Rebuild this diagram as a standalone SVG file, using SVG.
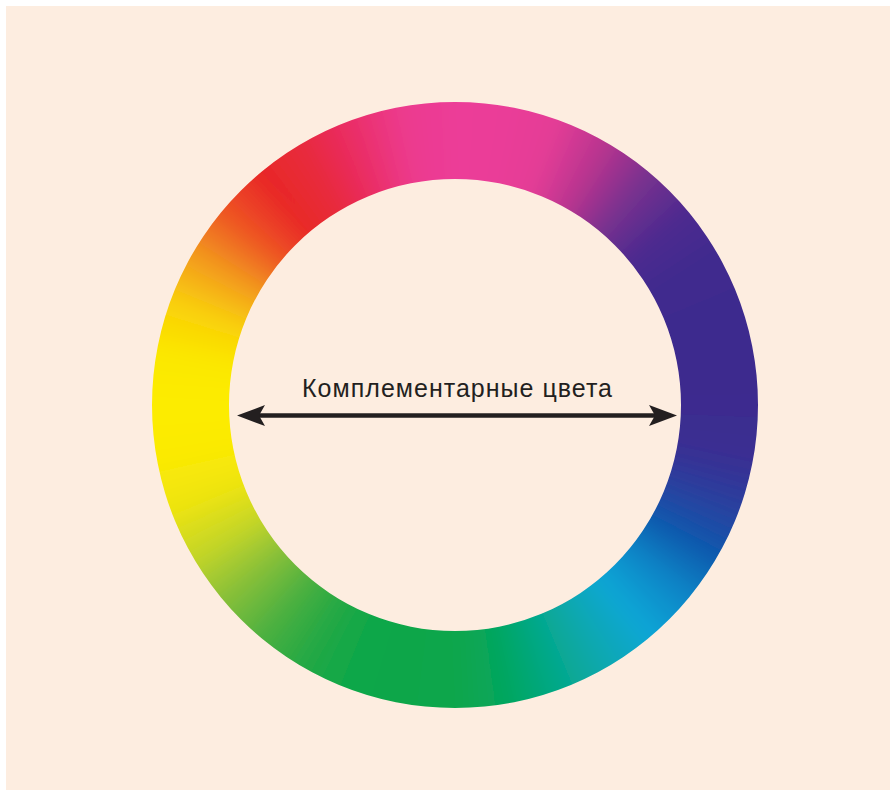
<svg xmlns="http://www.w3.org/2000/svg" width="890" height="790" viewBox="0 0 890 790">
<defs>
<style>
.s{fill:none;stroke-width:190;stroke-dasharray:5.5 354.5}
.lbl{font-family:"Liberation Sans",Arial,sans-serif;font-size:25px;fill:#231f20}
.arr{stroke:#231f20;stroke-width:4.6;fill:none}
</style>
<filter id="soft" filterUnits="userSpaceOnUse" x="0" y="0" width="890" height="790">
<feGaussianBlur stdDeviation="11"/>
</filter>
<clipPath id="ring">
<path clip-rule="evenodd" d="M152,405 a303,303 0 1,0 606,0 a303,303 0 1,0 -606,0 Z M229,405 a226,226 0 1,0 452,0 a226,226 0 1,0 -452,0 Z"/>
</clipPath>
<marker id="head" markerUnits="userSpaceOnUse" markerWidth="30" markerHeight="22" refX="21" refY="10.5" orient="auto-start-reverse" viewBox="0 0 30 22">
<path d="M28,10.5 L0,0 L6,10.5 L0,21 Z" fill="#231f20"/>
</marker>
</defs>
<rect x="0" y="0" width="890" height="790" fill="#ffffff"/>
<rect x="6" y="6" width="884" height="784" fill="#fdede0"/>
<g id="color-wheel" clip-path="url(#ring)">
<g filter="url(#soft)">
<g transform="translate(455 405)">
<circle class="s" r="264.5" pathLength="360" stroke="#3d2c8f" stroke-dashoffset="2.7"/>
<circle class="s" r="264.5" pathLength="360" stroke="#3b2d90" stroke-dashoffset="-2.3"/>
<circle class="s" r="264.5" pathLength="360" stroke="#3a2e92" stroke-dashoffset="-7.3"/>
<circle class="s" r="264.5" pathLength="360" stroke="#323698" stroke-dashoffset="-12.3"/>
<circle class="s" r="264.5" pathLength="360" stroke="#2a3f9e" stroke-dashoffset="-17.3"/>
<circle class="s" r="264.5" pathLength="360" stroke="#1c4ca6" stroke-dashoffset="-22.3"/>
<circle class="s" r="264.5" pathLength="360" stroke="#0d59ad" stroke-dashoffset="-27.3"/>
<circle class="s" r="264.5" pathLength="360" stroke="#0c70ba" stroke-dashoffset="-32.3"/>
<circle class="s" r="264.5" pathLength="360" stroke="#0a86c8" stroke-dashoffset="-37.3"/>
<circle class="s" r="264.5" pathLength="360" stroke="#0c96cf" stroke-dashoffset="-42.3"/>
<circle class="s" r="264.5" pathLength="360" stroke="#0ea6d6" stroke-dashoffset="-47.3"/>
<circle class="s" r="264.5" pathLength="360" stroke="#0ba7c3" stroke-dashoffset="-52.3"/>
<circle class="s" r="264.5" pathLength="360" stroke="#08a8b0" stroke-dashoffset="-57.3"/>
<circle class="s" r="264.5" pathLength="360" stroke="#07a89c" stroke-dashoffset="-62.3"/>
<circle class="s" r="264.5" pathLength="360" stroke="#06a888" stroke-dashoffset="-67.3"/>
<circle class="s" r="264.5" pathLength="360" stroke="#06a773" stroke-dashoffset="-72.3"/>
<circle class="s" r="264.5" pathLength="360" stroke="#06a65e" stroke-dashoffset="-77.3"/>
<circle class="s" r="264.5" pathLength="360" stroke="#08a655" stroke-dashoffset="-82.3"/>
<circle class="s" r="264.5" pathLength="360" stroke="#0aa64c" stroke-dashoffset="-87.3"/>
<circle class="s" r="264.5" pathLength="360" stroke="#0ba64b" stroke-dashoffset="-92.3"/>
<circle class="s" r="264.5" pathLength="360" stroke="#0ca64a" stroke-dashoffset="-97.3"/>
<circle class="s" r="264.5" pathLength="360" stroke="#0ea649" stroke-dashoffset="-102.3"/>
<circle class="s" r="264.5" pathLength="360" stroke="#10a748" stroke-dashoffset="-107.3"/>
<circle class="s" r="264.5" pathLength="360" stroke="#18a846" stroke-dashoffset="-112.3"/>
<circle class="s" r="264.5" pathLength="360" stroke="#20a845" stroke-dashoffset="-117.3"/>
<circle class="s" r="264.5" pathLength="360" stroke="#36ac42" stroke-dashoffset="-122.3"/>
<circle class="s" r="264.5" pathLength="360" stroke="#4cb040" stroke-dashoffset="-127.3"/>
<circle class="s" r="264.5" pathLength="360" stroke="#69b83c" stroke-dashoffset="-132.3"/>
<circle class="s" r="264.5" pathLength="360" stroke="#86bf38" stroke-dashoffset="-137.3"/>
<circle class="s" r="264.5" pathLength="360" stroke="#a5ca30" stroke-dashoffset="-142.3"/>
<circle class="s" r="264.5" pathLength="360" stroke="#c4d628" stroke-dashoffset="-147.3"/>
<circle class="s" r="264.5" pathLength="360" stroke="#d9dd1c" stroke-dashoffset="-152.3"/>
<circle class="s" r="264.5" pathLength="360" stroke="#eee410" stroke-dashoffset="-157.3"/>
<circle class="s" r="264.5" pathLength="360" stroke="#f5e708" stroke-dashoffset="-162.3"/>
<circle class="s" r="264.5" pathLength="360" stroke="#fbea00" stroke-dashoffset="-167.3"/>
<circle class="s" r="264.5" pathLength="360" stroke="#fceb00" stroke-dashoffset="-172.3"/>
<circle class="s" r="264.5" pathLength="360" stroke="#fcec00" stroke-dashoffset="-177.3"/>
<circle class="s" r="264.5" pathLength="360" stroke="#fcea00" stroke-dashoffset="-182.3"/>
<circle class="s" r="264.5" pathLength="360" stroke="#fbe800" stroke-dashoffset="-187.3"/>
<circle class="s" r="264.5" pathLength="360" stroke="#fadc04" stroke-dashoffset="-192.3"/>
<circle class="s" r="264.5" pathLength="360" stroke="#f9d008" stroke-dashoffset="-197.3"/>
<circle class="s" r="264.5" pathLength="360" stroke="#f6b512" stroke-dashoffset="-202.3"/>
<circle class="s" r="264.5" pathLength="360" stroke="#f39a1c" stroke-dashoffset="-207.3"/>
<circle class="s" r="264.5" pathLength="360" stroke="#f07720" stroke-dashoffset="-212.3"/>
<circle class="s" r="264.5" pathLength="360" stroke="#ee5424" stroke-dashoffset="-217.3"/>
<circle class="s" r="264.5" pathLength="360" stroke="#eb3e26" stroke-dashoffset="-222.3"/>
<circle class="s" r="264.5" pathLength="360" stroke="#e82828" stroke-dashoffset="-227.3"/>
<circle class="s" r="264.5" pathLength="360" stroke="#e82933" stroke-dashoffset="-232.3"/>
<circle class="s" r="264.5" pathLength="360" stroke="#e82a3e" stroke-dashoffset="-237.3"/>
<circle class="s" r="264.5" pathLength="360" stroke="#e92c53" stroke-dashoffset="-242.3"/>
<circle class="s" r="264.5" pathLength="360" stroke="#ea2e68" stroke-dashoffset="-247.3"/>
<circle class="s" r="264.5" pathLength="360" stroke="#eb347b" stroke-dashoffset="-252.3"/>
<circle class="s" r="264.5" pathLength="360" stroke="#ec3a8e" stroke-dashoffset="-257.3"/>
<circle class="s" r="264.5" pathLength="360" stroke="#ec3b93" stroke-dashoffset="-262.3"/>
<circle class="s" r="264.5" pathLength="360" stroke="#ec3c98" stroke-dashoffset="-267.3"/>
<circle class="s" r="264.5" pathLength="360" stroke="#eb3c98" stroke-dashoffset="-272.3"/>
<circle class="s" r="264.5" pathLength="360" stroke="#ea3c98" stroke-dashoffset="-277.3"/>
<circle class="s" r="264.5" pathLength="360" stroke="#e73c97" stroke-dashoffset="-282.3"/>
<circle class="s" r="264.5" pathLength="360" stroke="#e43c96" stroke-dashoffset="-287.3"/>
<circle class="s" r="264.5" pathLength="360" stroke="#ce3893" stroke-dashoffset="-292.3"/>
<circle class="s" r="264.5" pathLength="360" stroke="#b8348f" stroke-dashoffset="-297.3"/>
<circle class="s" r="264.5" pathLength="360" stroke="#98328f" stroke-dashoffset="-302.3"/>
<circle class="s" r="264.5" pathLength="360" stroke="#78308f" stroke-dashoffset="-307.3"/>
<circle class="s" r="264.5" pathLength="360" stroke="#632e8f" stroke-dashoffset="-312.3"/>
<circle class="s" r="264.5" pathLength="360" stroke="#4e2c8f" stroke-dashoffset="-317.3"/>
<circle class="s" r="264.5" pathLength="360" stroke="#472c8f" stroke-dashoffset="-322.3"/>
<circle class="s" r="264.5" pathLength="360" stroke="#402b8e" stroke-dashoffset="-327.3"/>
<circle class="s" r="264.5" pathLength="360" stroke="#3f2b8e" stroke-dashoffset="-332.3"/>
<circle class="s" r="264.5" pathLength="360" stroke="#3e2b8e" stroke-dashoffset="-337.3"/>
<circle class="s" r="264.5" pathLength="360" stroke="#3e2b8e" stroke-dashoffset="-342.3"/>
<circle class="s" r="264.5" pathLength="360" stroke="#3d2b8e" stroke-dashoffset="-347.3"/>
<circle class="s" r="264.5" pathLength="360" stroke="#3d2c8e" stroke-dashoffset="-352.3"/>
</g>
</g>
</g>
<g id="connectors">
<line class="arr" x1="244" y1="415.5" x2="670" y2="415.5" marker-start="url(#head)" marker-end="url(#head)"/>
</g>
<g id="label">
<text class="lbl" x="302" y="397" textLength="310" lengthAdjust="spacing">Комплементарные цвета</text>
</g>
</svg>
